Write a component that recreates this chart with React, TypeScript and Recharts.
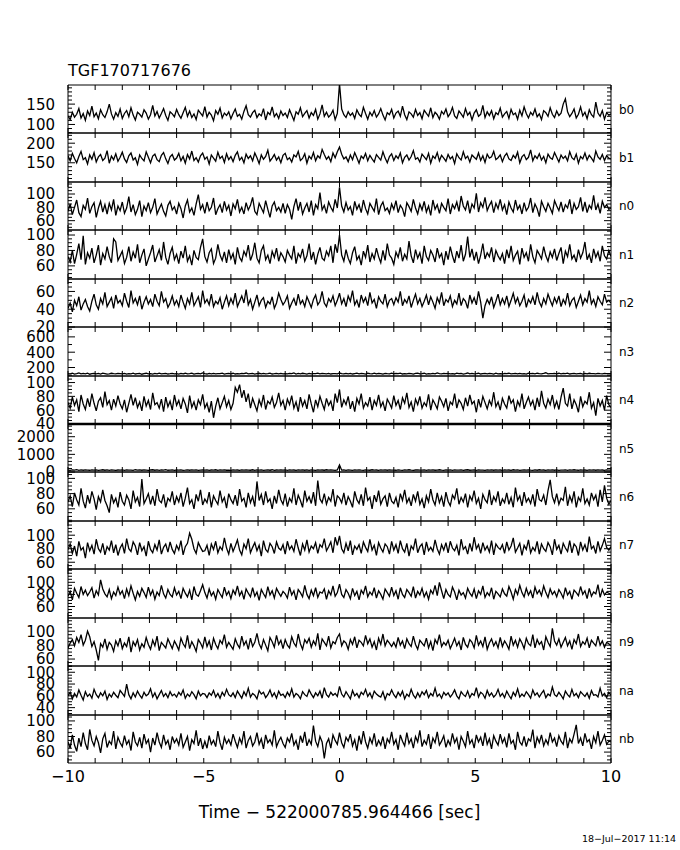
import React from 'react';
import { LineChart, Line, XAxis, YAxis, ReferenceLine } from 'recharts';

const TITLE = 'TGF170717676';
const X_LABEL = 'Time \u2212 522000785.964466 [sec]';
const DATE_STAMP = '18\u2212Jul\u22122017 11:14';
const X_TICKS = [-10, -9, -8, -7, -6, -5, -4, -3, -2, -1, 0, 1, 2, 3, 4, 5, 6, 7, 8, 9, 10];
const X_LABELED = [-10, -5, 0, 5, 10];
const DETECTORS = ['b0', 'b1', 'n0', 'n1', 'n2', 'n3', 'n4', 'n5', 'n6', 'n7', 'n8', 'n9', 'na', 'nb'];

// count rates per bin, 251 bins spanning -10 .. 10 s (0.08 s)
const b0 = [121,112,130,118,125,139,116,127,110,133,122,145,119,128,114,136,124,117,131,150,126,113,129,120,138,
115,127,134,119,141,123,111,130,125,118,136,128,113,124,147,121,132,116,127,139,122,110,131,126,119,
137,124,115,129,142,120,133,117,126,112,135,128,121,144,118,130,123,109,134,125,140,116,128,122,131,
114,127,138,120,125,113,132,146,124,118,129,135,117,126,121,139,111,130,124,143,119,127,115,133,122,
128,117,136,123,110,131,125,141,119,127,134,116,129,122,137,113,126,148,120,130,118,124,135,112,127,
200,138,124,117,131,122,128,115,136,125,119,142,127,113,130,121,134,118,126,139,123,111,129,124,137,
116,128,133,120,145,124,112,131,126,118,137,122,129,114,135,127,120,141,117,130,124,113,132,125,138,
119,127,142,121,115,133,126,118,139,123,130,111,128,136,120,125,147,117,131,122,134,114,129,124,140,
118,126,132,115,137,124,128,113,135,121,143,127,116,130,123,138,119,126,112,134,129,120,141,125,117,
133,122,128,150,163,131,119,127,138,116,125,143,121,130,114,136,124,118,155,128,120,134,113,129,123,126];
const b1 = [168,155,174,161,150,166,179,158,163,147,170,159,176,152,165,171,156,162,181,149,167,158,173,154,164,
177,160,151,168,175,157,163,146,170,161,155,178,164,150,167,172,158,153,169,176,160,148,165,171,157,
162,174,155,166,149,171,160,180,156,163,152,168,175,159,165,147,170,162,154,177,161,167,151,173,158,
166,153,169,178,157,164,150,172,161,168,155,175,163,148,170,159,166,182,154,162,171,157,165,150,169,
174,158,163,152,170,165,179,156,161,173,149,167,160,176,155,168,162,184,171,159,166,153,175,163,178,
190,172,160,165,153,170,158,176,163,149,167,161,174,155,169,160,152,171,164,157,178,162,150,166,173,
156,168,161,175,150,164,170,157,166,181,159,163,152,172,165,158,174,149,167,161,176,155,169,162,154,
171,160,166,148,173,163,157,178,161,167,152,170,164,159,175,156,168,151,172,162,165,179,158,163,170,
153,167,174,160,156,169,162,177,150,165,171,158,164,183,155,168,161,173,157,166,150,172,163,159,176,
164,152,170,161,167,155,178,163,158,172,149,166,160,175,157,169,162,153,180,165,159,171,156,168,162,160];
const n0 = [74,85,69,80,91,72,66,83,77,94,71,81,87,65,79,89,73,84,70,86,76,92,68,82,75,
88,71,79,96,73,84,69,77,90,66,82,75,87,72,80,93,70,78,85,74,67,83,89,76,81,
70,86,78,64,82,91,73,79,68,85,99,77,84,71,88,75,80,94,69,78,84,72,89,76,83,
67,85,78,92,73,80,70,87,76,83,95,74,69,86,79,72,90,77,65,82,88,75,80,73,86,
71,84,77,62,81,93,75,88,70,79,86,73,90,68,84,78,102,76,83,71,88,80,74,92,79,
110,82,73,87,76,81,68,89,77,84,72,91,78,70,86,80,74,93,69,82,88,75,79,71,85,
77,90,72,83,78,66,87,81,74,92,79,70,85,76,89,73,82,68,91,77,84,71,86,80,75,
93,70,84,78,88,74,97,82,76,90,71,85,79,101,73,87,80,95,75,83,89,72,86,78,92,
76,84,69,88,79,73,91,77,83,70,87,75,80,94,72,85,78,66,89,81,74,86,79,71,90,
82,75,88,73,84,79,92,70,86,77,81,95,74,88,72,83,78,98,76,85,71,89,80,84,77,79];
const n1 = [72,65,80,63,75,89,68,99,62,77,70,83,64,74,87,61,76,69,85,72,64,95,91,67,73,
79,63,71,85,66,78,70,88,64,74,82,60,69,77,87,65,73,81,67,91,71,62,76,84,68,
75,63,79,70,86,66,73,61,80,71,68,84,95,72,65,77,82,63,70,88,74,67,78,64,81,
69,76,62,84,71,66,79,73,87,67,75,90,70,64,80,86,68,74,63,79,71,83,66,77,72,
65,80,74,69,86,63,76,71,82,66,73,89,68,78,62,75,84,70,67,79,73,86,64,88,77,
100,74,66,81,70,63,77,85,68,73,61,79,71,87,65,76,69,83,72,64,80,67,89,74,70,
62,78,71,84,66,75,69,92,73,64,81,70,77,63,86,72,67,80,74,65,83,71,76,61,79,
68,85,73,64,79,70,87,66,75,98,71,82,67,78,63,74,89,69,77,72,84,65,80,73,68,
76,63,81,70,86,67,74,79,62,83,71,77,66,88,72,64,80,75,69,85,73,66,78,71,82,
67,76,84,63,79,72,88,69,74,65,81,70,77,91,68,75,64,82,71,78,66,86,73,69,80,72];
const n2 = [41,47,37,50,44,54,39,46,51,43,38,49,57,45,40,52,46,59,43,48,53,41,56,47,50,
44,58,49,42,61,47,52,45,55,40,48,54,46,51,43,57,49,44,60,48,52,42,47,55,45,
50,43,56,48,41,52,46,59,44,49,54,42,61,47,51,45,57,43,49,46,53,40,48,55,44,
52,46,58,43,49,55,47,62,45,51,40,48,56,44,50,53,42,49,46,54,41,47,58,51,45,
49,55,41,47,52,44,57,46,50,43,54,48,42,51,56,45,49,60,47,43,52,48,55,44,50,
58,46,52,43,55,49,61,45,50,42,56,48,53,44,59,47,51,41,54,49,46,57,43,50,52,
45,53,48,60,44,51,47,55,42,50,57,46,52,43,49,56,45,54,48,41,53,47,59,44,51,
48,55,43,50,46,58,44,52,49,41,56,47,53,45,60,48,30,44,51,46,54,42,49,57,45,
52,46,55,43,50,58,47,53,44,49,56,42,51,47,54,45,59,48,43,52,46,57,50,44,53,
47,55,43,51,46,58,44,50,53,42,49,56,45,52,48,61,46,51,43,54,49,45,57,48,50,47];
const n3 = [121,117,125,114,120,129,116,123,118,126,112,119,124,117,122,115,127,120,113,118,125,119,116,123,120,
117,124,113,121,118,126,115,120,123,112,119,125,117,121,114,122,118,127,116,120,123,115,119,124,117,
120,114,122,118,125,116,121,127,113,119,123,117,130,120,115,122,118,124,116,121,119,126,114,120,123,
118,125,115,121,117,124,120,128,116,119,122,114,120,125,118,123,116,121,127,115,119,124,117,122,118,
121,116,124,119,130,115,122,118,125,120,114,123,117,121,119,126,116,122,120,118,124,115,121,119,117,
128,120,116,124,118,122,115,121,126,117,123,119,114,125,120,118,127,116,122,121,113,124,119,117,125,
116,123,120,127,115,121,118,124,119,113,122,126,117,120,125,114,121,118,123,116,129,120,117,122,119,
124,117,121,115,126,119,122,114,120,128,116,123,118,121,125,115,119,122,117,124,120,113,126,118,121,
115,122,119,125,117,120,123,116,124,118,121,114,127,119,122,116,125,120,118,123,131,117,121,119,124,
118,125,116,122,119,126,115,121,124,117,120,123,114,122,118,125,119,121,116,124,120,117,123,119,121,120];
const n4 = [71,63,79,67,75,58,82,69,61,77,65,84,70,59,73,78,64,87,68,74,60,76,66,81,69,
62,75,57,70,83,67,78,64,72,59,80,66,74,61,85,68,71,63,76,58,79,65,73,60,82,
67,74,62,77,69,56,81,64,72,60,75,68,83,63,70,57,73,49,66,78,62,71,80,65,74,
61,70,93,86,97,78,89,72,84,63,77,68,59,75,66,82,61,73,69,79,64,71,85,67,74,
60,76,68,81,63,72,58,79,66,74,62,83,69,57,75,65,80,70,61,77,67,73,59,84,71,
90,64,75,68,80,62,73,58,77,69,84,63,71,66,79,60,74,67,82,65,72,59,76,70,63,
81,67,74,61,78,70,85,64,72,58,76,68,80,63,71,66,83,60,75,69,62,79,73,65,77,
59,72,68,84,63,75,70,61,78,66,82,69,73,57,76,64,80,71,62,74,67,86,65,72,60,
77,69,63,81,70,75,58,73,66,84,62,71,79,67,74,60,78,65,88,70,63,76,68,82,64,
73,61,79,92,70,66,84,62,75,68,57,80,65,73,69,86,63,71,52,77,66,74,60,81,68,64];
const n5 = [110,95,120,105,130,90,115,100,125,108,98,118,104,122,93,112,127,101,116,96,121,107,89,114,103,
119,97,124,106,111,92,128,102,117,99,123,109,94,113,126,100,115,91,120,105,129,98,110,118,96,
114,103,121,95,108,125,99,116,104,119,92,112,118,107,122,97,113,101,127,94,117,106,123,100,111,
96,120,105,113,90,124,102,118,108,99,126,95,115,110,121,93,107,119,101,128,97,114,104,122,109,
117,98,123,103,112,94,120,106,125,100,115,91,118,109,96,121,105,113,99,127,102,116,108,93,119,
400,104,118,97,125,110,93,116,101,122,107,96,120,112,99,127,105,114,92,119,108,124,100,115,103,
111,98,121,106,94,117,103,126,109,97,114,120,101,108,123,95,116,104,119,99,112,128,106,93,118,
102,115,96,122,110,105,119,94,113,127,100,108,118,97,124,107,111,92,120,103,116,99,125,109,114,
95,121,106,112,98,126,104,117,93,110,119,102,123,108,96,115,101,128,107,113,94,120,105,118,100,
124,97,111,106,119,93,115,102,127,109,98,120,104,113,95,122,108,116,100,125,103,112,96,118,107,110];
const n6 = [69,77,63,81,72,65,87,70,61,78,67,83,73,59,76,69,85,71,64,55,79,68,74,62,82,
70,65,78,72,60,84,69,75,63,99,67,73,80,66,77,64,86,71,68,79,62,74,70,83,65,
76,69,81,63,74,88,67,72,60,79,70,85,65,73,68,82,62,77,71,66,84,69,75,61,80,
72,67,78,64,86,70,74,62,81,68,76,63,96,71,79,65,83,69,73,60,77,67,85,72,66,
80,63,74,69,87,65,78,71,62,84,70,76,67,82,64,97,73,68,80,66,75,70,86,63,77,
74,68,81,65,76,70,62,83,72,67,79,64,88,71,75,60,78,69,84,66,73,77,63,81,70,
67,75,62,80,71,85,68,74,64,79,70,83,66,73,61,77,69,86,72,65,81,68,76,63,82,
70,64,78,73,87,66,75,69,80,62,77,71,84,67,74,60,79,72,68,85,65,76,70,83,64,
73,68,81,66,75,62,88,71,77,64,82,69,74,67,79,63,86,72,70,78,65,84,98,76,68,
80,66,74,71,89,64,77,69,83,62,75,70,87,67,73,65,81,72,78,63,85,69,91,74,66,71];
const n7 = [79,87,73,84,69,91,78,82,66,89,77,85,72,94,80,75,88,71,83,78,92,74,86,70,81,
87,73,95,80,76,90,84,71,89,77,83,69,91,79,74,86,78,93,72,82,87,75,90,79,73,
85,78,92,71,83,88,103,94,80,73,89,82,76,77,85,70,87,79,91,74,83,78,96,81,72,
88,76,84,93,78,71,87,80,95,74,82,89,77,85,69,92,79,75,88,83,73,90,81,78,86,
72,91,79,84,76,94,81,70,87,78,93,75,84,80,89,73,86,82,95,77,83,90,74,97,85,
99,80,74,88,77,92,71,84,79,86,73,90,82,76,94,78,85,70,89,81,75,87,83,72,91,
78,86,73,92,80,75,88,69,84,79,95,74,83,87,71,90,77,82,76,93,80,72,86,78,89,
74,91,81,77,85,70,94,79,83,72,88,76,97,80,86,73,89,78,84,75,92,71,87,82,79,
86,73,90,78,84,96,75,81,88,70,85,79,93,74,82,77,91,72,87,80,76,89,83,71,94,
79,85,72,88,81,76,92,74,87,83,70,90,78,86,75,98,80,84,73,91,77,85,95,82,78,83];
const n8 = [77,85,71,90,82,75,93,80,87,78,84,91,74,86,79,104,89,81,76,88,73,84,78,92,80,
86,73,89,78,94,82,71,85,77,90,83,75,92,79,87,72,84,78,95,81,74,88,80,76,91,
79,85,73,90,82,76,87,71,93,80,77,86,96,83,74,89,78,84,72,88,81,75,92,79,85,
73,87,80,94,78,85,72,89,82,76,91,77,84,70,88,81,75,93,79,86,74,90,83,77,85,
81,74,92,79,86,71,88,83,76,95,80,73,87,78,91,75,84,82,89,72,86,79,94,77,83,
97,80,75,88,82,73,90,78,85,71,87,81,94,76,84,79,91,74,86,80,72,89,83,77,92,
78,86,72,91,80,75,88,83,77,93,74,85,79,90,76,84,72,87,81,95,78,100,86,73,88,
80,76,92,84,71,87,79,83,74,90,82,77,89,73,86,80,94,75,83,78,91,72,85,81,76,
89,81,77,93,84,72,88,80,95,83,76,90,79,86,74,92,81,87,78,94,83,75,89,80,85,
76,88,82,74,91,79,85,72,87,83,78,93,80,86,73,90,77,84,81,96,75,88,79,84,82,80];
const n9 = [76,83,88,79,91,84,95,80,87,100,92,78,85,73,58,82,77,89,74,84,80,71,86,79,90,
75,83,78,92,70,85,79,88,73,82,77,91,81,74,87,79,93,72,84,80,76,89,82,75,86,
80,73,90,82,77,94,75,85,79,71,88,83,76,92,78,86,73,90,81,75,87,82,95,77,84,
79,74,89,81,76,93,80,86,74,90,78,84,97,82,75,88,80,72,91,85,77,94,81,87,75,
88,80,76,92,83,78,96,82,74,88,83,90,77,86,80,97,73,89,84,79,93,76,85,82,91,
96,79,86,83,74,88,81,92,76,87,84,79,94,82,89,77,85,73,90,81,96,79,87,83,78,
84,77,91,80,86,75,89,82,78,93,81,74,87,83,79,90,76,85,72,88,82,95,78,84,80,
87,75,82,90,79,85,73,91,81,77,88,84,76,94,80,86,78,92,74,83,89,79,85,76,91,
78,86,81,74,93,80,87,77,89,83,75,90,82,79,95,76,88,81,85,73,92,84,78,104,86,
80,89,77,84,91,79,86,74,88,82,96,78,85,81,90,76,87,83,79,93,80,86,77,84,82,79];
const na = [60,66,55,64,58,70,61,53,67,59,63,56,71,62,57,65,60,68,54,63,58,66,61,57,69,
64,59,80,62,55,65,58,68,61,56,66,60,63,72,58,65,55,62,69,59,64,57,67,60,63,
58,66,61,70,56,63,59,67,62,55,68,60,64,63,57,65,61,69,58,64,56,66,60,71,62,
59,65,57,68,62,56,67,60,73,58,64,61,55,69,63,66,57,62,70,59,65,56,68,61,63,
57,66,60,72,58,64,61,55,67,62,59,70,63,57,65,60,68,56,74,62,58,66,61,64,59,
76,63,58,67,61,55,69,60,64,57,66,62,71,59,65,56,68,63,60,58,67,54,64,61,70,
62,57,66,60,68,55,63,59,71,61,56,65,58,67,62,69,57,64,60,73,59,63,56,66,61,
65,58,63,70,60,55,67,62,59,68,57,64,61,74,58,66,63,56,69,60,65,58,62,71,59,
64,57,68,61,55,66,60,72,58,63,59,67,62,56,70,61,65,58,64,69,57,63,60,75,62,
59,66,61,55,68,62,58,71,60,64,57,67,63,59,65,56,69,61,62,58,73,60,64,57,66,61];
const nb = [73,65,82,69,61,78,67,85,71,63,89,75,68,80,72,59,77,84,66,74,70,87,64,79,72,
67,81,70,75,62,86,73,68,79,65,83,71,76,60,78,69,85,73,66,82,70,75,63,80,72,
77,69,84,66,73,80,62,76,71,88,68,78,64,74,65,81,70,75,67,87,72,63,79,71,76,
69,83,74,66,78,71,87,65,75,80,68,73,85,70,77,64,82,72,76,69,88,67,74,79,71,
66,78,73,84,69,75,63,81,72,86,68,76,70,94,74,67,80,73,52,71,77,65,82,75,70,
85,72,66,79,74,83,68,76,62,81,70,87,73,65,78,71,84,67,75,69,80,64,77,72,86,
70,76,63,82,74,68,85,71,77,65,80,73,88,67,75,70,83,64,78,72,86,69,74,81,66,
75,69,84,72,78,63,80,74,67,87,71,76,65,82,73,79,68,85,70,77,64,81,74,69,83,
72,78,66,84,71,75,63,86,73,69,80,67,77,74,89,65,79,72,82,68,76,70,85,73,78,
67,81,74,70,86,65,77,72,83,95,71,78,68,84,73,76,64,80,72,87,69,75,82,70,74,73];

// y-axis ranges and tick values per detector
const b0Range = [79, 197]; const b0Major = [100, 150]; const b0Minor = [80, 90, 110, 120, 130, 140, 160, 170, 180, 190];
const b1Range = [101, 226]; const b1Major = [150, 200]; const b1Minor = [110, 120, 130, 140, 160, 170, 180, 190, 210, 220];
const n0Range = [46, 118]; const n0Major = [60, 80, 100]; const n0Minor = [50, 55, 65, 70, 75, 85, 90, 95, 105, 110, 115];
const n1Range = [43, 106.5]; const n1Major = [60, 80, 100]; const n1Minor = [45, 50, 55, 65, 70, 75, 85, 90, 95, 105];
const n2Range = [20, 74]; const n2Major = [20, 40, 60]; const n2Minor = [25, 30, 35, 45, 50, 55, 65, 70];
const n3Range = [89, 729]; const n3Major = [200, 400, 600]; const n3Minor = [100, 300, 500, 700];
const n4Range = [40, 109.5]; const n4Major = [40, 60, 80, 100]; const n4Minor = [45, 50, 55, 65, 70, 75, 85, 90, 95, 105];
const n5Range = [0, 2720]; const n5Major = [0, 1000, 2000]; const n5Minor = [200, 400, 600, 800, 1200, 1400, 1600, 1800, 2200, 2400, 2600];
const n6Range = [44, 108.4]; const n6Major = [60, 80, 100]; const n6Minor = [45, 50, 55, 65, 70, 75, 85, 90, 95, 105];
const n7Range = [50, 121]; const n7Major = [60, 80, 100]; const n7Minor = [50, 55, 65, 70, 75, 85, 90, 95, 105, 110, 115, 120];
const n8Range = [41, 122]; const n8Major = [60, 80, 100]; const n8Minor = [45, 50, 55, 65, 70, 75, 85, 90, 95, 105, 110, 115, 120];
const n9Range = [50, 119]; const n9Major = [60, 80, 100]; const n9Minor = [50, 55, 65, 70, 75, 85, 90, 95, 105, 110, 115];
const naRange = [27.5, 110.6]; const naMajor = [40, 60, 80, 100]; const naMinor = [30, 35, 45, 50, 55, 65, 70, 75, 85, 90, 95, 105, 110];
const nbRange = [46, 107.6]; const nbMajor = [60, 80, 100]; const nbMinor = [50, 55, 65, 70, 75, 85, 90, 95, 105];

const SERIES = [b0, b1, n0, n1, n2, n3, n4, n5, n6, n7, n8, n9, na, nb];
const RANGES = [b0Range, b1Range, n0Range, n1Range, n2Range, n3Range, n4Range, n5Range, n6Range, n7Range, n8Range, n9Range, naRange, nbRange];
const MAJORS = [b0Major, b1Major, n0Major, n1Major, n2Major, n3Major, n4Major, n5Major, n6Major, n7Major, n8Major, n9Major, naMajor, nbMajor];
const MINORS = [b0Minor, b1Minor, n0Minor, n1Minor, n2Minor, n3Minor, n4Minor, n5Minor, n6Minor, n7Minor, n8Minor, n9Minor, naMinor, nbMinor];

const FONT = '"DejaVu Sans", sans-serif';
const W = 680;
const PLOT_LEFT = 68;
const PLOT_RIGHT = 611;
const TOP0 = 85;
const BOTTOM = 763;
const PH = (BOTTOM - TOP0) / DETECTORS.length;

function fmtX(v: number) {
  return v < 0 ? '\u2212' + Math.abs(v) : String(v);
}

function Panel(props: { idx: number }) {
  const { idx } = props;
  const name = DETECTORS[idx];
  const values = SERIES[idx];
  const domain = RANGES[idx];
  const major = MAJORS[idx];
  const minor = MINORS[idx];
  const last = idx === DETECTORS.length - 1;
  const top = Math.round(TOP0 + idx * PH);
  const bot = Math.round(TOP0 + (idx + 1) * PH);
  const h = bot - top;
  const n = values.length;
  const data = values.map((v, i) => ({ t: -10 + (20 * i) / (n - 1), v }));
  const yTicks = [...major, ...minor].sort((a, b) => a - b);

  const leftTick = (p: any) => {
    const v = p.payload.value;
    const isMaj = major.includes(v);
    return (
      <g>
        <line x1={p.x} x2={p.x + (isMaj ? 7 : 4)} y1={p.y} y2={p.y} stroke="#000" strokeWidth={1} />
        {isMaj ? (
          <text x={p.x - 13} y={p.y} dy="0.36em" textAnchor="end" fontSize={15} fontFamily={FONT} fill="#000">
            {v}
          </text>
        ) : null}
      </g>
    );
  };
  const rightTick = (p: any) => {
    const v = p.payload.value;
    const isMaj = major.includes(v);
    return <line x1={p.x} x2={p.x - (isMaj ? 7 : 4)} y1={p.y} y2={p.y} stroke="#000" strokeWidth={1} />;
  };
  const topTick = (p: any) => <line x1={p.x} x2={p.x} y1={p.y} y2={p.y + 5} stroke="#000" strokeWidth={1} />;
  const bottomTick = (p: any) => {
    const v = p.payload.value;
    return (
      <g>
        <line x1={p.x} x2={p.x} y1={p.y} y2={p.y - 5} stroke="#000" strokeWidth={1} />
        {last && X_LABELED.includes(v) ? (
          <text x={p.x} y={p.y + 13} dy="0.36em" textAnchor="middle" fontSize={16} fontFamily={FONT} fill="#000">
            {fmtX(v)}
          </text>
        ) : null}
      </g>
    );
  };

  return (
    <div style={{ position: 'absolute', left: 0, top: top - 1, width: W, height: h + 2 }}>
      <LineChart width={W} height={h + 2} data={data} margin={{ top: 0, right: W - PLOT_RIGHT - 1, bottom: 0, left: PLOT_LEFT - 1 }}>
        <XAxis xAxisId="b" dataKey="t" type="number" domain={[-10, 10]} allowDataOverflow orientation="bottom" height={1}
          ticks={X_TICKS} interval={0} tickSize={0} tickMargin={0} tickLine={false} tick={bottomTick}
          axisLine={{ stroke: '#000', strokeWidth: 1 }} />
        <XAxis xAxisId="t" dataKey="t" type="number" domain={[-10, 10]} allowDataOverflow orientation="top" height={1}
          ticks={X_TICKS} interval={0} tickSize={0} tickMargin={0} tickLine={false} tick={topTick}
          axisLine={{ stroke: '#000', strokeWidth: 1 }} />
        <YAxis yAxisId="l" type="number" domain={domain} allowDataOverflow orientation="left" width={1}
          ticks={yTicks} interval={0} tickSize={0} tickMargin={0} tickLine={false} tick={leftTick}
          axisLine={{ stroke: '#000', strokeWidth: 1 }} />
        <YAxis yAxisId="r" type="number" domain={domain} allowDataOverflow orientation="right" width={1}
          ticks={yTicks} interval={0} tickSize={0} tickMargin={0} tickLine={false} tick={rightTick}
          axisLine={{ stroke: '#000', strokeWidth: 1 }} />
        {name === 'n5' ? (
          <ReferenceLine xAxisId="b" yAxisId="l" y={domain[1]} stroke="#000" strokeWidth={2.5} />
        ) : null}
        <Line xAxisId="b" yAxisId="l" dataKey="v" type="linear" stroke="#000" strokeWidth={1.3} dot={false}
          isAnimationActive={false} />
      </LineChart>
    </div>
  );
}

export default function App() {
  return (
    <div style={{ position: 'absolute', left: 0, top: 0, width: W, height: 850, background: '#fff', fontFamily: FONT }}>
      <style>{'.recharts-surface{overflow:visible}'}</style>
      {DETECTORS.map((d, i) => (
        <Panel key={d} idx={i} />
      ))}
      <svg width={W} height={850} style={{ position: 'absolute', left: 0, top: 0, pointerEvents: 'none' }}>
        <text x={68} y={76} fontSize={16} fontFamily={FONT} fill="#000">{TITLE}</text>
        {DETECTORS.map((d, i) => (
          <text key={d} x={619} y={TOP0 + (i + 0.5) * PH} dy="0.36em" fontSize={12} fontFamily={FONT} fill="#000">
            {d}
          </text>
        ))}
        <text x={(PLOT_LEFT + PLOT_RIGHT) / 2} y={818} textAnchor="middle" fontSize={17} fontFamily={FONT} fill="#000">
          {X_LABEL}
        </text>
        <text x={676} y={842} textAnchor="end" fontSize={9.5} fontFamily={FONT} fill="#000">{DATE_STAMP}</text>
      </svg>
    </div>
  );
}
